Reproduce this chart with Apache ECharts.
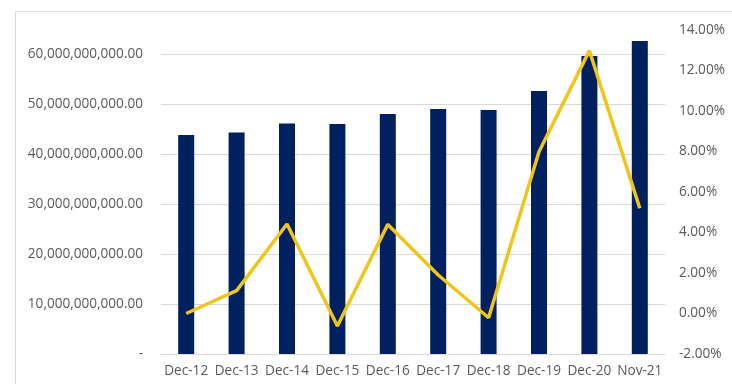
<!DOCTYPE html>
<html>
<head>
<meta charset="utf-8">
<script src="https://cdn.jsdelivr.net/npm/echarts@6/dist/echarts.min.js"></script>
<style>
html,body{margin:0;padding:0;background:#fff;}
#c{width:732px;height:384px;}
</style>
</head>
<body>
<div id="c"></div>
<script>
var categories = ['Dec-12','Dec-13','Dec-14','Dec-15','Dec-16','Dec-17','Dec-18','Dec-19','Dec-20','Nov-21'];
var barValues = [43.8e9, 44.3e9, 46.1e9, 46.0e9, 48.0e9, 49.0e9, 48.8e9, 52.6e9, 59.6e9, 62.6e9];
var lineValues = [0.0000, 0.0113, 0.0442, -0.0062, 0.0440, 0.0190, -0.0021, 0.0799, 0.1298, 0.0520];
var leftTicks = [0, 10e9, 20e9, 30e9, 40e9, 50e9, 60e9];
var rightTicks = [-0.02, 0, 0.02, 0.04, 0.06, 0.08, 0.10, 0.12, 0.14];

var font = 'Open Sans';
var txt = '#595959';
var fs = 13.6;
function fmtLeft(v){
  if (leftTicks.indexOf(v) < 0) return '';
  if (v === 0) return '-';
  var s = Math.round(v).toString().replace(/\B(?=(\d{3})+(?!\d))/g, ',');
  return s + '.00';
}
function fmtRight(v){
  return (v*100).toFixed(2) + '%';
}
var chart = echarts.init(document.getElementById('c'), null, {renderer:'canvas'});
chart.setOption({
  animation:false,
  backgroundColor:'#fff',
  graphic:[{type:'rect', shape:{x:15.5,y:11.5,width:740,height:400}, style:{fill:'none', stroke:'#d9d9d9', lineWidth:1}, z:-1}],
  grid:{left:161, right:67, top:30, bottom:30},
  xAxis:{
    type:'category', data:categories,
    axisLine:{show:true, lineStyle:{color:'#d9d9d9'}},
    axisTick:{show:false},
    axisLabel:{color:txt, fontFamily:font, fontSize:fs, margin:10, interval:0}
  },
  yAxis:[{
    type:'value', min:0, max:64.8e9, interval:10e9, position:'left',
    axisLine:{show:false}, axisTick:{show:false},
    axisLabel:{color:txt, fontFamily:font, fontSize:fs, margin:18, formatter:fmtLeft, showMaxLabel:false},
    splitLine:{show:true, lineStyle:{color:['#d9d9d9','#d9d9d9','#d9d9d9','#d9d9d9','#d9d9d9','#d9d9d9','#d9d9d9','rgba(0,0,0,0)']}}
  },{
    type:'value', min:-0.02, max:0.14, interval:0.02, position:'right',
    axisLine:{show:false}, axisTick:{show:false},
    axisLabel:{color:txt, fontFamily:font, fontSize:fs, margin:14, formatter:fmtRight},
    splitLine:{show:false}
  }],
  series:[{
    type:'bar', data:barValues, yAxisIndex:0, barWidth:16,
    itemStyle:{color:'#002060'}
  },{
    type:'line', data:lineValues, yAxisIndex:1, smooth:false,
    showSymbol:false, symbol:'none',
    lineStyle:{color:'#f0c419', width:3.5}
  }]
});
</script>
</body>
</html>
